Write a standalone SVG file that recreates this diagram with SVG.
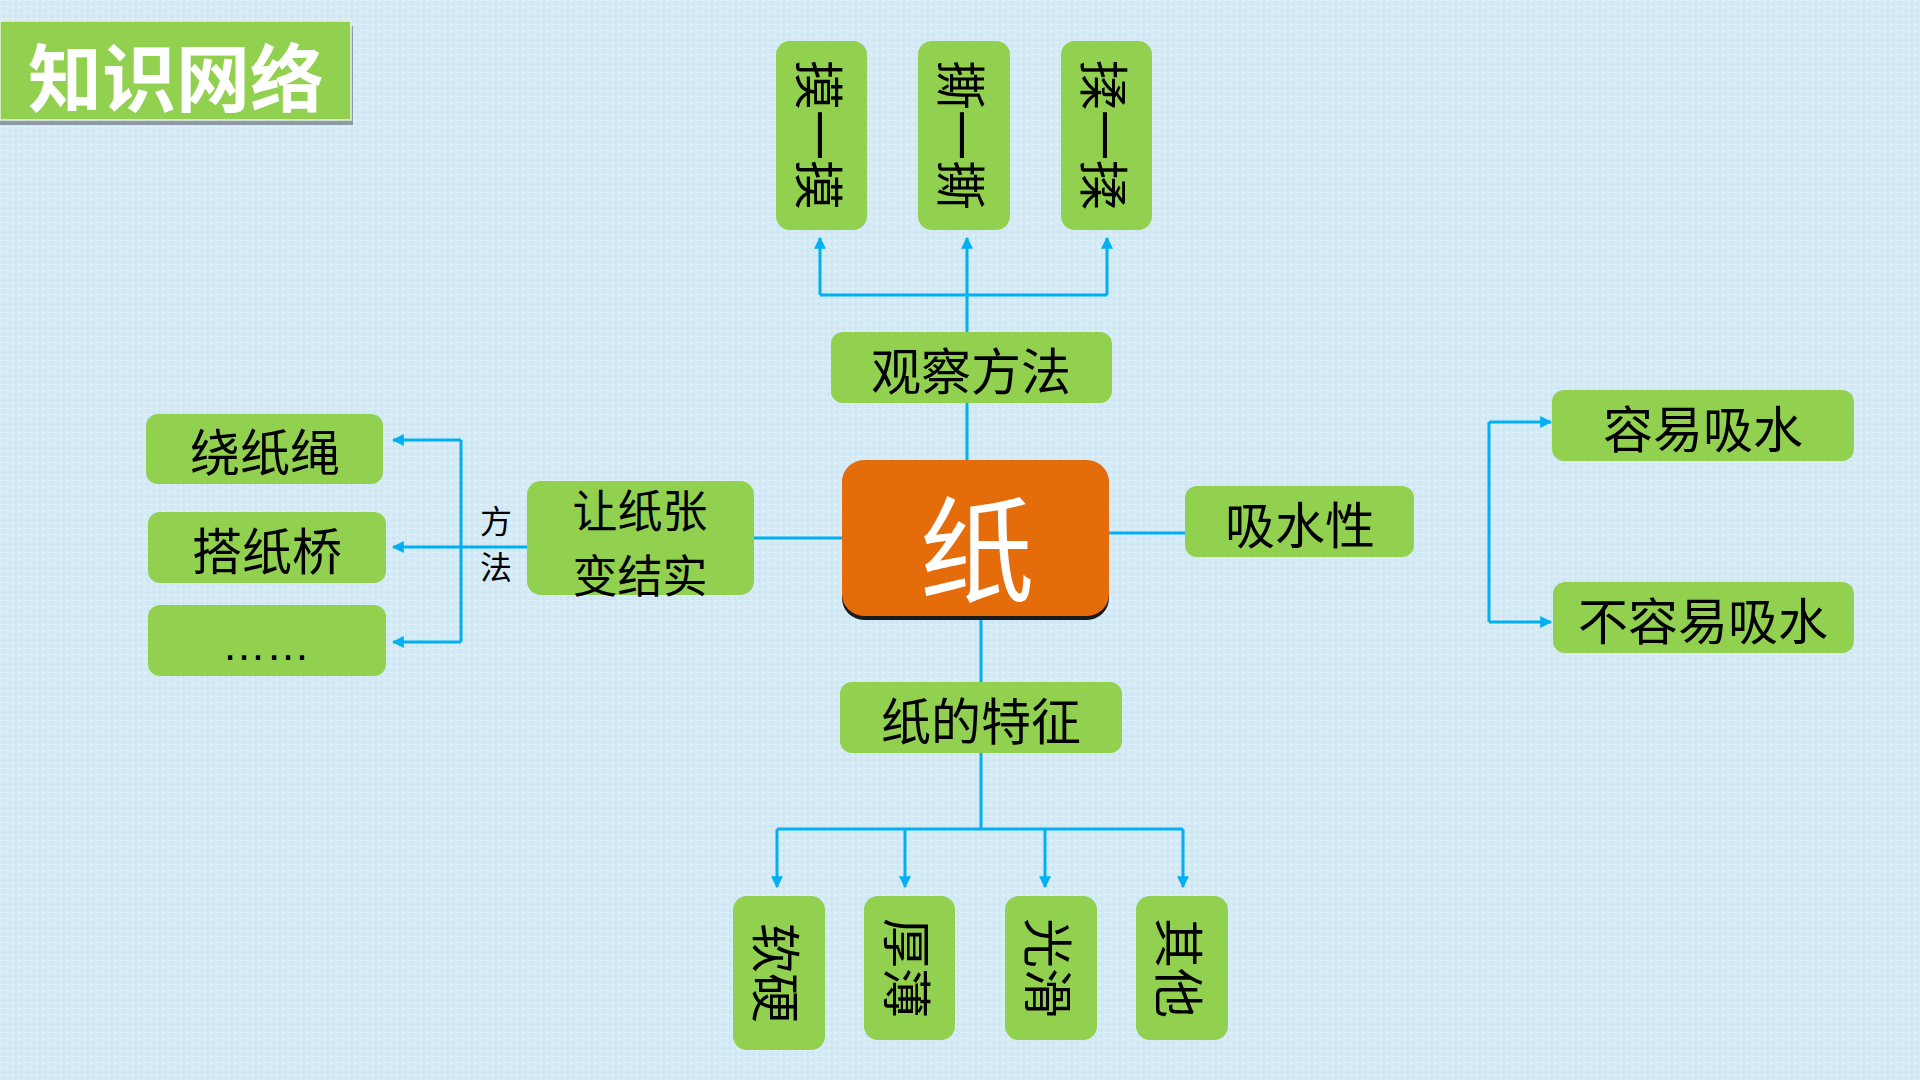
<svg xmlns="http://www.w3.org/2000/svg" width="1920" height="1080" viewBox="0 0 1920 1080">
<style>
.bx{fill:#92D050}
.t{font-family:"Noto Sans CJK SC","Noto Sans",sans-serif;font-size:50px;fill:#000;text-anchor:middle;dominant-baseline:central}
.c{fill:none;stroke:#00B0F0;stroke-width:3}
</style>
<defs>
<marker id="ah" viewBox="0 0 10 10" refX="9" refY="5" markerWidth="4" markerHeight="4" orient="auto" markerUnits="strokeWidth">
<path d="M0,0 L10,5 L0,10 z" fill="#00B0F0"/>
</marker>
<pattern id="tex" width="6" height="6" patternUnits="userSpaceOnUse">
<rect width="6" height="6" fill="#D3EAF7"/>
<rect x="0" y="0" width="3" height="1" fill="#E2F1FA"/>
<rect x="3" y="3" width="1" height="3" fill="#C6E2F2"/>
</pattern>
</defs>
<rect width="1920" height="1080" fill="url(#tex)"/>

<g id="title">
<rect x="0" y="26" width="353" height="99" fill="#8E9BA6"/>
<rect x="0" y="21" width="351" height="99" fill="#92D050" stroke="#E8F4E0" stroke-width="1.5"/>
<text x="176" y="73" style="font-family:'Noto Sans CJK SC',sans-serif;font-size:74px;font-weight:700;fill:#fff;text-anchor:middle;dominant-baseline:central">知识网络</text>
</g>

<g id="connectors">
<path class="c" d="M967,460 V238" marker-end="url(#ah)"/>
<path class="c" d="M820,295 H1107"/>
<path class="c" d="M820,295 V238" marker-end="url(#ah)"/>
<path class="c" d="M1107,295 V238" marker-end="url(#ah)"/>
<path class="c" d="M1109,533 H1185"/>
<path class="c" d="M754,538 H842"/>
<path class="c" d="M981,617 V829"/>
<path class="c" d="M777,829 H1183"/>
<path class="c" d="M777,829 V887" marker-end="url(#ah)"/>
<path class="c" d="M905,829 V887" marker-end="url(#ah)"/>
<path class="c" d="M1045,829 V887" marker-end="url(#ah)"/>
<path class="c" d="M1183,829 V887" marker-end="url(#ah)"/>
<path class="c" d="M527,547 H461"/>
<path class="c" d="M461,440 V642"/>
<path class="c" d="M461,440 H393" marker-end="url(#ah)"/>
<path class="c" d="M461,547 H393" marker-end="url(#ah)"/>
<path class="c" d="M461,642 H393" marker-end="url(#ah)"/>
<path class="c" d="M1489,422 V622"/>
<path class="c" d="M1489,422 H1551" marker-end="url(#ah)"/>
<path class="c" d="M1489,622 H1551" marker-end="url(#ah)"/>
</g>

<g id="n-mo"><rect class="bx" x="776" y="41" width="91" height="189" rx="14"/><text class="t" transform="translate(821.5,135) rotate(90)">摸一摸</text></g>
<g id="n-si"><rect class="bx" x="918" y="41" width="92" height="189" rx="14"/><text class="t" transform="translate(964,135) rotate(90)">撕一撕</text></g>
<g id="n-rou"><rect class="bx" x="1061" y="41" width="91" height="189" rx="14"/><text class="t" transform="translate(1106.5,135) rotate(90)">揉一揉</text></g>

<g id="n-guancha"><rect class="bx" x="831" y="332" width="281" height="71" rx="12"/><text class="t" x="971" y="368">观察方法</text></g>

<g id="n-zhi">
<rect x="842" y="463" width="267" height="157" rx="22" fill="#1a1a1a"/>
<rect x="842" y="460" width="267" height="156" rx="22" fill="#E46C0A"/>
<text x="977" y="543" style="font-family:'Noto Sans CJK SC',sans-serif;font-size:115px;fill:#fff;text-anchor:middle;dominant-baseline:central">纸</text>
</g>

<g id="n-xishui"><rect class="bx" x="1185" y="486" width="229" height="71" rx="12"/><text class="t" x="1300" y="522">吸水性</text></g>
<g id="n-rongyi"><rect class="bx" x="1552" y="390" width="302" height="71" rx="12"/><text class="t" x="1703" y="426">容易吸水</text></g>
<g id="n-burongyi"><rect class="bx" x="1553" y="582" width="301" height="71" rx="12"/><text class="t" x="1703" y="618">不容易吸水</text></g>

<g id="n-tezheng"><rect class="bx" x="840" y="682" width="282" height="71" rx="12"/><text class="t" x="981" y="718">纸的特征</text></g>

<g id="n-ruanying"><rect class="bx" x="733" y="896" width="92" height="154" rx="14"/><text class="t" transform="translate(779,973) rotate(90)">软硬</text></g>
<g id="n-houbao"><rect class="bx" x="864" y="896" width="91" height="144" rx="14"/><text class="t" transform="translate(909.5,968) rotate(90)">厚薄</text></g>
<g id="n-guanghua"><rect class="bx" x="1005" y="896" width="92" height="144" rx="14"/><text class="t" transform="translate(1051,968) rotate(90)">光滑</text></g>
<g id="n-qita"><rect class="bx" x="1136" y="896" width="92" height="144" rx="14"/><text class="t" transform="translate(1182,968) rotate(90)">其他</text></g>

<g id="n-jieshi"><rect class="bx" x="527" y="481" width="227" height="114" rx="14"/><text class="t" style="font-size:45px"><tspan x="640" y="508">让纸张</tspan><tspan x="640" y="573">变结实</tspan></text></g>

<g id="label-fangfa"><text class="t" style="font-size:32px"><tspan x="496" y="519">方</tspan><tspan x="496" y="565">法</tspan></text></g>

<g id="n-raozhisheng"><rect class="bx" x="146" y="414" width="237" height="70" rx="12"/><text class="t" x="265" y="449">绕纸绳</text></g>
<g id="n-dazhiqiao"><rect class="bx" x="148" y="512" width="238" height="71" rx="12"/><text class="t" x="267" y="548">搭纸桥</text></g>
<g id="n-more"><rect class="bx" x="148" y="605" width="238" height="71" rx="12"/><text x="266" y="660" style="font-family:'Liberation Sans',sans-serif;font-size:44px;fill:#000;text-anchor:middle">……</text></g>
</svg>
